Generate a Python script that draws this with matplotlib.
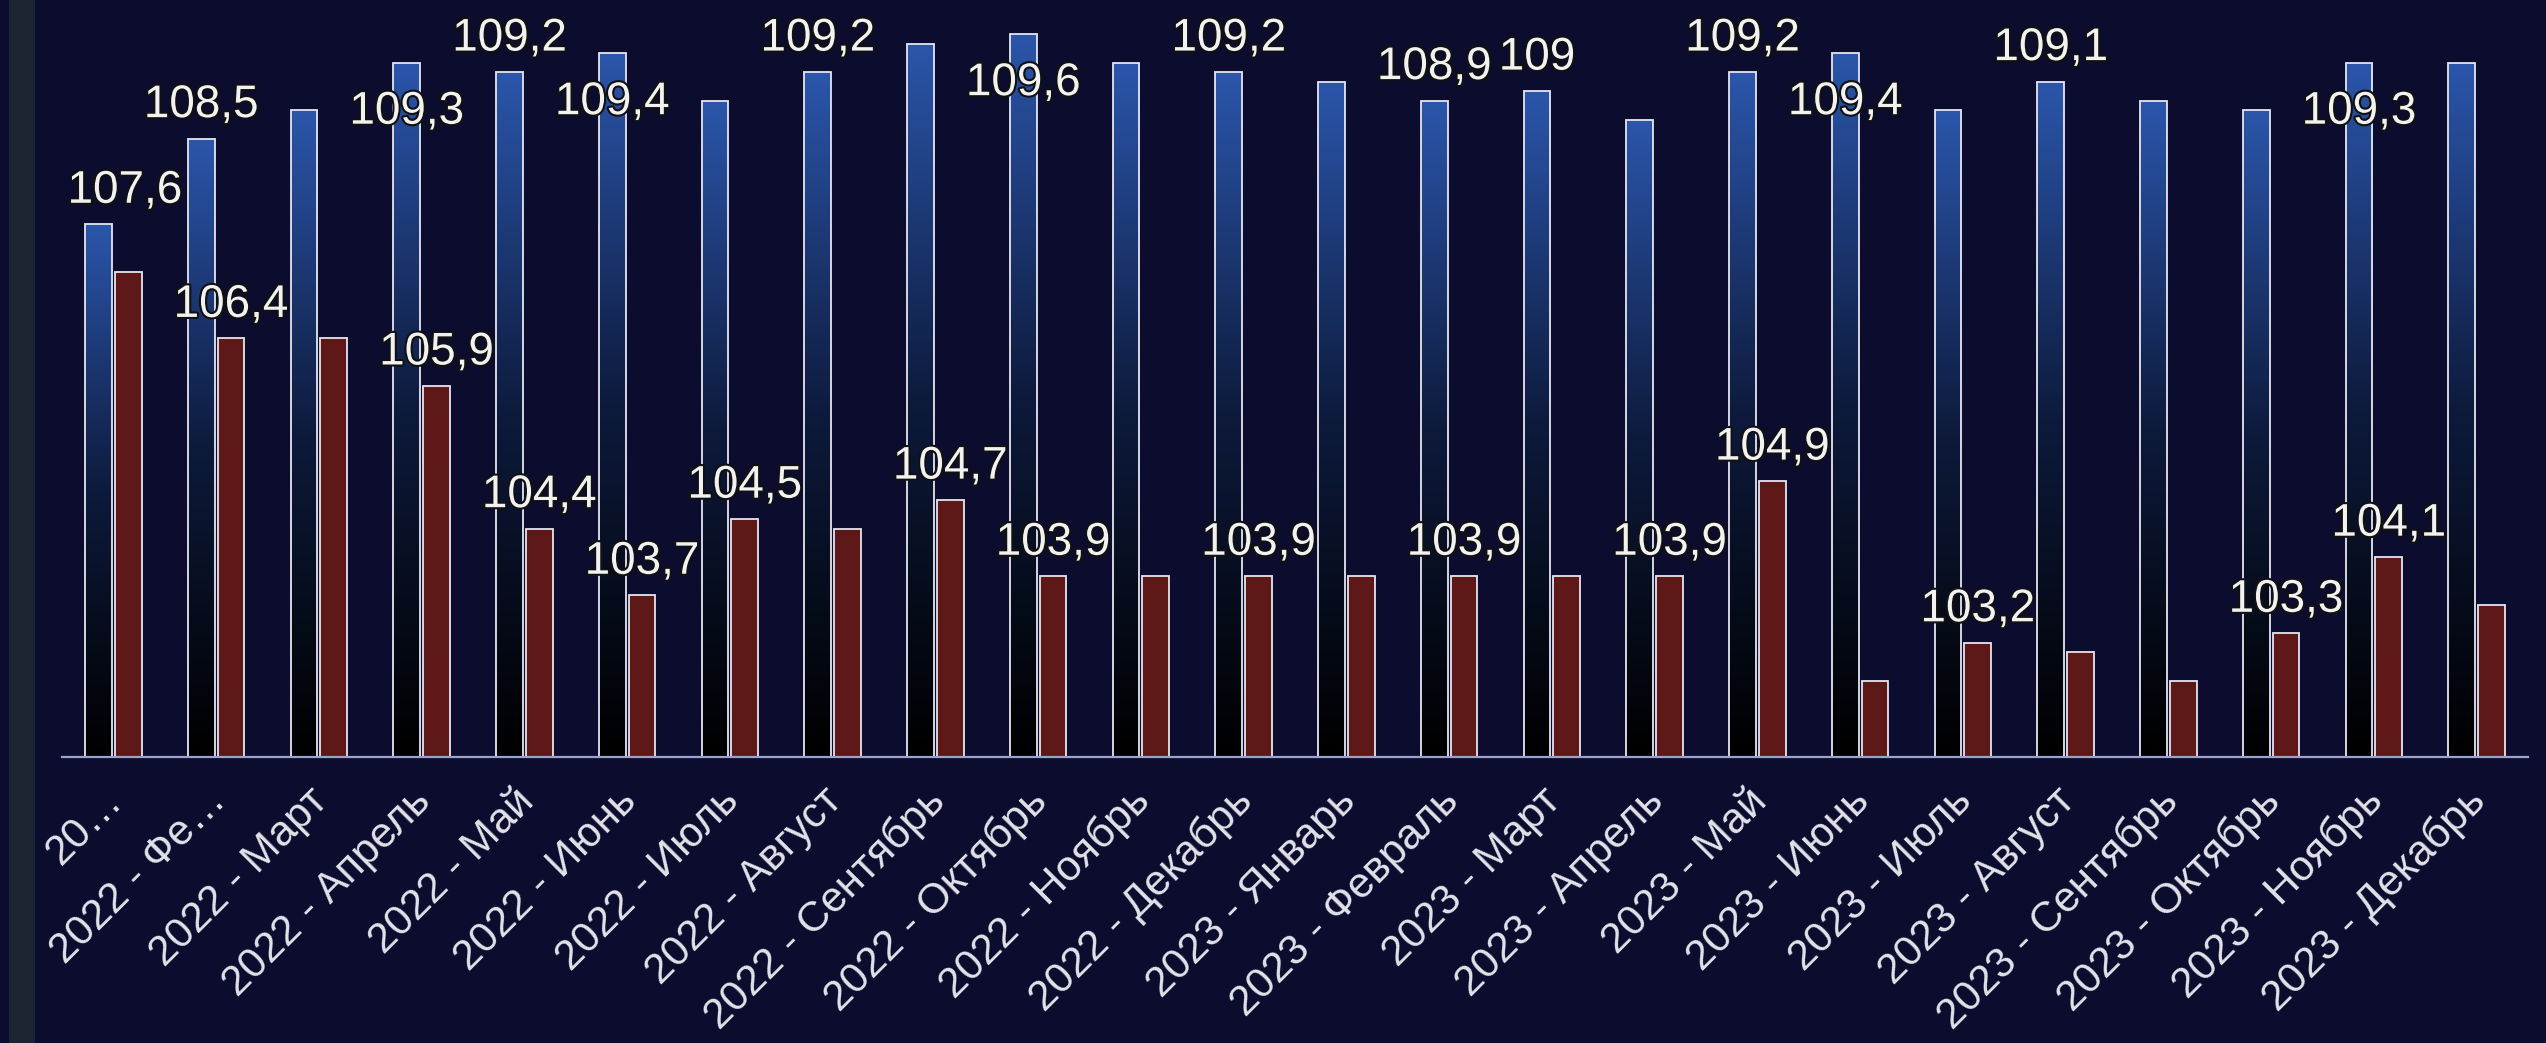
import matplotlib
matplotlib.use("Agg")
import matplotlib.pyplot as plt
import numpy as np
from matplotlib.colors import LinearSegmentedColormap
import matplotlib.patheffects as pe
from matplotlib.patches import Rectangle

# ---------------- data ----------------
categories = ["20…", "2022 - Фе…", "2022 - Март", "2022 - Апрель", "2022 - Май",
              "2022 - Июнь", "2022 - Июль", "2022 - Август", "2022 - Сентябрь",
              "2022 - Октябрь", "2022 - Ноябрь", "2022 - Декабрь", "2023 - Январь",
              "2023 - Февраль", "2023 - Март", "2023 - Апрель", "2023 - Май",
              "2023 - Июнь", "2023 - Июль", "2023 - Август", "2023 - Сентябрь",
              "2023 - Октябрь", "2023 - Ноябрь", "2023 - Декабрь"]
blue_values = [107.6, 108.5, 108.8, 109.3, 109.2, 109.4, 108.9, 109.2, 109.5, 109.6,
               109.3, 109.2, 109.1, 108.9, 109.0, 108.7, 109.2, 109.4, 108.8, 109.1,
               108.9, 108.8, 109.3, 109.3]
red_values = [107.1, 106.4, 106.4, 105.9, 104.4, 103.7, 104.5, 104.4, 104.7, 103.9,
              103.9, 103.9, 103.9, 103.9, 103.9, 103.9, 104.9, 102.8, 103.2, 103.1,
              102.8, 103.3, 104.1, 103.6]
# which data labels are visible in the reference (others hidden by overlap)
blue_label_shown = [1, 1, 0, 1, 1, 1, 0, 1, 0, 1, 0, 1, 0, 1, 1, 0, 1, 1, 0, 1, 0, 0, 1, 0]
red_label_shown = [0, 1, 0, 1, 1, 1, 1, 0, 1, 1, 0, 1, 0, 1, 0, 1, 1, 0, 1, 0, 0, 1, 1, 0]
y_min, y_max = 102, 110

# ---------------- style ----------------
W, H, DPI = 2546, 1043, 100
BG = "#0c0c2e"
STRIP = "#1c2431"
BLUE_TOP = "#2b56ab"
RED = "#5e1818"
EDGE = "#e6e6f0"
AXIS = "#9aa3cc"
TXT = "#f2f2f2"
FONT = "Liberation Sans"

plt.rcParams["font.family"] = [FONT, "DejaVu Sans"]

fig = plt.figure(figsize=(W / DPI, H / DPI), dpi=DPI, facecolor=BG)
fig.patches.append(Rectangle((9 / W, 0), 26 / W, 1, transform=fig.transFigure,
                             facecolor=STRIP, edgecolor="none", zorder=0))

ax_left, ax_right, ax_base, ax_top = 62, 2528, 757, -4
ax = fig.add_axes([ax_left / W, (H - ax_base) / H, (ax_right - ax_left) / W,
                   (ax_base - ax_top) / H])
ax.set_facecolor("none")

x = np.arange(len(categories))
bw = 0.26
off = 0.145
blue_bars = ax.bar(x - off, np.array(blue_values) - y_min, bw, bottom=y_min,
                   facecolor="none", edgecolor=EDGE, linewidth=1.3, zorder=3)
red_bars = ax.bar(x + off, np.array(red_values) - y_min, bw, bottom=y_min,
                  facecolor=RED, edgecolor=EDGE, linewidth=1.3, zorder=3)

cmap = LinearSegmentedColormap.from_list("bg", ["#000000", "#0d1a3c", BLUE_TOP])
grad = np.linspace(0, 1, 256).reshape(-1, 1)
for rect in blue_bars:
    x0 = rect.get_x()
    x1 = x0 + rect.get_width()
    y0 = rect.get_y()
    y1 = y0 + rect.get_height()
    im = ax.imshow(grad, extent=[x0, x1, y0, y1], origin="lower", aspect="auto",
                   cmap=cmap, zorder=2, interpolation="bilinear")
    im.set_clip_path(rect)

ax.set_xlim(-0.5, len(categories) - 0.5)
ax.set_ylim(y_min, y_max)
for s in ["left", "right", "top"]:
    ax.spines[s].set_visible(False)
ax.spines["bottom"].set_color(AXIS)
ax.spines["bottom"].set_linewidth(1.6)
ax.spines["bottom"].set_zorder(4)
ax.set_yticks([])
ax.set_xticks([])

halo = [pe.withStroke(linewidth=3, foreground="#111111")]


def fmt(v):
    return ("%g" % v).replace(".", ",")


LSIZE = 33
for i, v in enumerate(blue_values):
    if not blue_label_shown[i]:
        continue
    if v >= 109.3:
        dy = -44
    else:
        dy = 15.5
    if i == 0:
        ax.annotate(fmt(v), xy=(-0.5, v), xytext=(4, dy), textcoords="offset points",
                    ha="left", va="baseline", fontsize=LSIZE, color=TXT,
                    path_effects=halo, zorder=6)
    else:
        ax.annotate(fmt(v), xy=(i - off, v), xytext=(0, dy), textcoords="offset points",
                    ha="center", va="baseline", fontsize=LSIZE, color=TXT,
                    path_effects=halo, zorder=6)

for i, v in enumerate(red_values):
    if not red_label_shown[i]:
        continue
    ax.annotate(fmt(v), xy=(i + off, v), xytext=(0, 15.5), textcoords="offset points",
                ha="center", va="baseline", fontsize=LSIZE, color=TXT,
                path_effects=halo, zorder=6)

trans = ax.get_xaxis_transform()
for i, lab in enumerate(categories):
    ax.annotate(lab, xy=(i, 0), xycoords=trans, xytext=(8, -33),
                textcoords="offset points", ha="right", va="baseline",
                rotation=45, rotation_mode="anchor", fontsize=30.5, color="#e2e2ea",
                annotation_clip=False)

fig.savefig("out.png", dpi=DPI, facecolor=BG)
